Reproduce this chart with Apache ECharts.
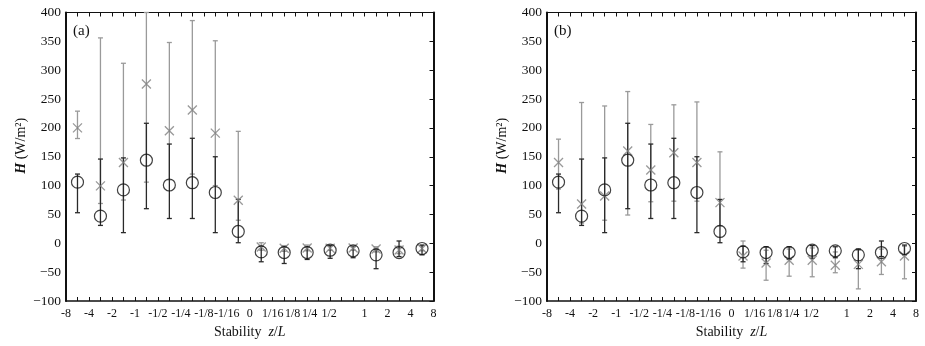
<!DOCTYPE html>
<html>
<head>
<meta charset="utf-8">
<script src="https://cdn.jsdelivr.net/npm/echarts@6/dist/echarts.min.js"></script>
<style>
html,body{margin:0;padding:0;background:#fff;}
#chart{width:925px;height:346px;}
</style>
</head>
<body>
<div id="chart"></div>
<script>
// Bin boundary tick labels (stability z/L)
const xTickLabels = ['-8','-4','-2','-1','-1/2','-1/4','-1/8','-1/16','0','1/16','1/8','1/4','1/2','1','2','4','8'];
const yTicks = [-100, -50, 0, 50, 100, 150, 200, 250, 300, 350, 400];

// Circles (same in both panels)
const circleH  = [106, 47, 92.5, 144, 101, 105, 88, 20.5, -15, -16, -16, -12, -13, -20, -16, -9];
const circleLo = [53, 31, 18.5, 60, 43, 43, 18.5, 1, -32, -35, -28, -26, -25, -44, -23, -20];
const circleHi = [120, 146, 148, 208, 172, 182, 150, 76, -5, -6, -6, -4, -6, -10, 4, -3];

// Crosses, panel (a)
const crossA   = [200, 99.5, 140, 276, 195, 231, 191, 74.6, -6.5, -8.7, -8, -8.7, -8, -10, -11.6, -9];
const crossALo = [181.6, 69, 75, 106, 110, 120, 100, 40, -12, -14, -13, -12, -12, -15, -18, -13];
const crossAHi = [229, 356, 312, 400, 348, 386, 351, 194, 1, -4, -3, -4, -4, -6, -5, -4];

// Crosses, panel (b)
const crossB   = [140, 68, 82, 160, 127, 157, 140, 70.5, -22, -34, -29.5, -29.5, -38, -36.5, -32, -22];
const crossBLo = [94, 35, 40, 49, 72, 73, 73, 30, -43, -64, -57, -58, -51, -79, -54, -61.5];
const crossBHi = [180.5, 244, 238, 263, 206, 240, 245, 158.5, 4, -12, -10, -8, -15, -12, -10, -5];

const SERIF = '"Liberation Serif","DejaVu Serif",serif';
const XFS = 12;
const labelShift = {'1/8': 6, '1/4': 18, '1/2': 25};

function pts(vals){ return vals.map((v,i)=>[i+0.5, v]); }
function bars(lo, hi){ return lo.map((v,i)=>[i+0.5, v, hi[i]]); }

function errRender(color){
  return function(params, api){
    const x = api.value(0);
    const p1 = api.coord([x, api.value(1)]);
    const p2 = api.coord([x, api.value(2)]);
    const hw = 2.5;
    const st = {stroke: color, lineWidth: 1.3};
    return {type:'group', children:[
      {type:'line', shape:{x1:p1[0], y1:p1[1], x2:p2[0], y2:p2[1]}, style:st},
      {type:'line', shape:{x1:p1[0]-hw, y1:p1[1], x2:p1[0]+hw, y2:p1[1]}, style:st},
      {type:'line', shape:{x1:p2[0]-hw, y1:p2[1], x2:p2[0]+hw, y2:p2[1]}, style:st}
    ]};
  };
}

const grids = [
  {left: 66, top: 12.5, width: 367.5, height: 288.5},
  {left: 547, top: 12.5, width: 369, height: 288.5}
];

const richShift = {};
Object.keys(labelShift).forEach(k => {
  richShift['s' + labelShift[k]] = {padding:[0, labelShift[k], 0, 0], fontFamily:SERIF, fontSize:XFS, color:'#111'};
});

const xAxes = [], yAxes = [];
grids.forEach((g, gi) => {
  xAxes.push({
    gridIndex: gi, type:'value', min:0, max:16, interval:0.5, position:'bottom',
    axisLine:{show:true, onZero:false, lineStyle:{color:'#111', width:1.5}},
    axisTick:{show:true, inside:true, length:4, lineStyle:{color:'#111', width:1}},
    splitLine:{show:false},
    axisLabel:{
      margin: 7, color:'#111', fontFamily: SERIF, fontSize: XFS,
      formatter: function(v){
        if (Math.abs(v - Math.round(v)) > 1e-6) return '';
        const s = xTickLabels[Math.round(v)];
        if (labelShift[s]) return '{s' + labelShift[s] + '|' + s + '}';
        return s;
      },
      rich: richShift
    },
    name: '{n|Stability  }{i|z}{n|/}{i|L}',
    nameLocation:'middle', nameGap: 24,
    nameTextStyle:{
      rich:{
        n:{fontFamily:SERIF, fontSize:14, color:'#111'},
        i:{fontFamily:SERIF, fontSize:14, fontStyle:'italic', color:'#111'}
      }
    }
  });
  xAxes.push({
    gridIndex: gi, type:'value', min:0, max:16, interval:0.5, position:'top',
    axisLine:{show:true, onZero:false, lineStyle:{color:'#111', width:1.2}},
    axisTick:{show:true, inside:true, length:4, lineStyle:{color:'#111', width:1}},
    axisLabel:{show:false}, splitLine:{show:false}
  });
  yAxes.push({
    gridIndex: gi, type:'value', min:-100, max:400, interval:50, position:'left',
    axisLine:{show:true, onZero:false, lineStyle:{color:'#111', width:2}},
    axisTick:{show:false},
    splitLine:{show:false},
    axisLabel:{
      margin: 5, color:'#111', fontFamily:SERIF, fontSize:13.5,
      formatter: v => String(v).replace('-', '\u2212')
    },
    name: '{i|H}{n| (W/m\u00B2)}',
    nameLocation:'middle', nameGap: 38, nameRotate: 90,
    nameTextStyle:{
      padding:[0,0,0,22],
      rich:{
        n:{fontFamily:SERIF, fontSize:14, color:'#111'},
        i:{fontFamily:SERIF, fontSize:14, fontStyle:'italic', fontWeight:'bold', color:'#111'}
      }
    }
  });
  yAxes.push({
    gridIndex: gi, type:'value', min:-100, max:400, interval:50, position:'right',
    axisLine:{show:true, onZero:false, lineStyle:{color:'#111', width:2}},
    axisTick:{show:true, inside:true, length:4, lineStyle:{color:'#111', width:1}},
    axisLabel:{show:false}, splitLine:{show:false}
  });
});

const crossSymbol = 'path://M0,0L10,10M10,0L0,10';

function panelSeries(gi, cross, cLo, cHi){
  const xi = gi*2, yi = gi*2;
  return [
    {type:'custom', xAxisIndex:xi, yAxisIndex:yi, renderItem: errRender('#9a9a9a'),
     data: bars(cLo, cHi), encode:{x:0, y:[1,2]}, z:2, silent:true},
    {type:'custom', xAxisIndex:xi, yAxisIndex:yi, renderItem: errRender('#2a2a2a'),
     data: bars(circleLo, circleHi), encode:{x:0, y:[1,2]}, z:3, silent:true},
    {type:'scatter', xAxisIndex:xi, yAxisIndex:yi, data: pts(cross), symbol: crossSymbol,
     symbolSize: 9, itemStyle:{color:'rgba(0,0,0,0)', borderColor:'#808080', borderWidth:1.3}, z:4, silent:true},
    {type:'scatter', xAxisIndex:xi, yAxisIndex:yi, data: pts(circleH), symbol:'circle',
     symbolSize: 12, itemStyle:{color:'rgba(0,0,0,0)', borderColor:'#111', borderWidth:1.2}, z:5, silent:true}
  ];
}

const option = {
  animation:false,
  backgroundColor:'#fff',
  grid: grids,
  xAxis: xAxes,
  yAxis: yAxes,
  graphic: [
    {type:'text', left: 73, top: 24, style:{text:'(a)', fontFamily:SERIF, fontSize:15, fill:'#111'}},
    {type:'text', left: 554, top: 24, style:{text:'(b)', fontFamily:SERIF, fontSize:15, fill:'#111'}}
  ],
  series: [].concat(panelSeries(0, crossA, crossALo, crossAHi), panelSeries(1, crossB, crossBLo, crossBHi))
};

const chart = echarts.init(document.getElementById('chart'), null, {renderer:'canvas'});
chart.setOption(option);
</script>
</body>
</html>
